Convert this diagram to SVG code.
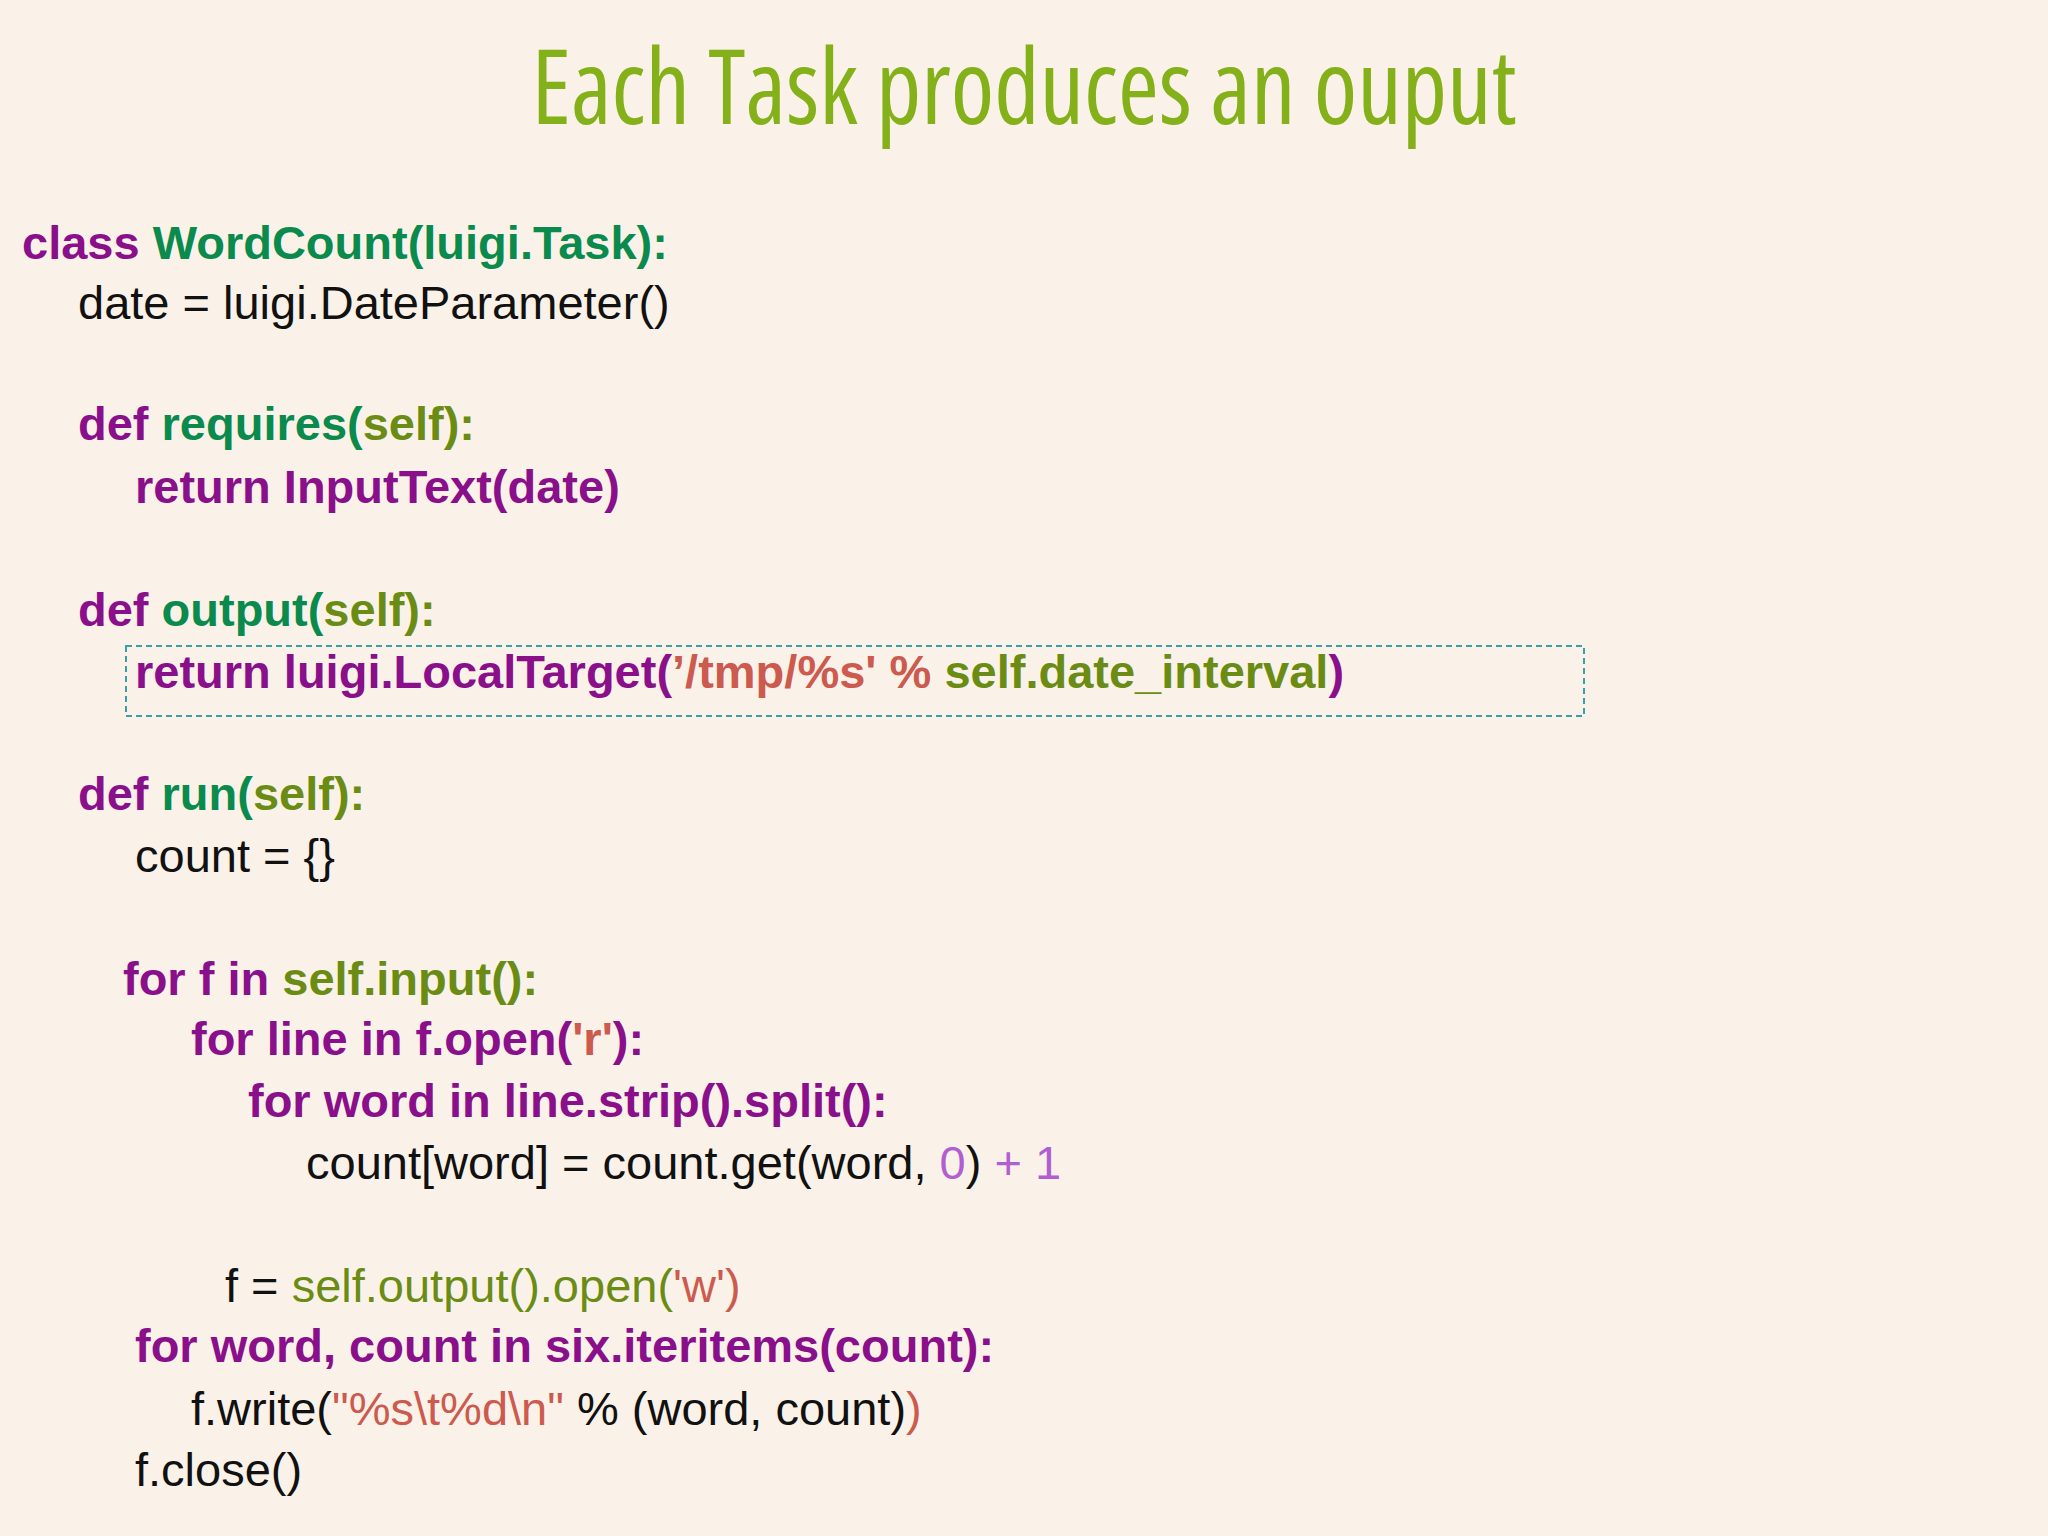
<svg xmlns="http://www.w3.org/2000/svg" width="2048" height="1536" viewBox="0 0 2048 1536">
<style>
text{font-family:"Liberation Sans",Arial,sans-serif;font-size:47px;fill:#111}
.b{font-weight:bold}
.p{fill:#8a0f8a}.g{fill:#0a8a4c}.o{fill:#6a8c14}.r{fill:#cc5a4e}.l{fill:#b05ed0}
.t{font-family:"Open Sans","Liberation Sans Narrow",sans-serif;font-size:104px;fill:#84b019;font-stretch:condensed}
</style>
<rect width="2048" height="1536" fill="#faf2e8"/>
<text class="t" x="1024" y="124" text-anchor="middle" textLength="985" lengthAdjust="spacingAndGlyphs">Each Task produces an ouput</text>
<rect x="126" y="646" width="1458" height="70" fill="none" stroke="#3aa0a8" stroke-width="2" stroke-dasharray="6,4"/>
<text class="b" x="22" y="259"><tspan class="p">class </tspan><tspan class="g">WordCount(luigi.Task):</tspan></text>
<text x="78" y="319">date = luigi.DateParameter()</text>
<text class="b" x="78" y="440"><tspan class="p">def </tspan><tspan class="g">requires(</tspan><tspan class="o">self</tspan><tspan class="o">):</tspan></text>
<text class="b p" x="135" y="503">return InputText(date)</text>
<text class="b" x="78" y="626"><tspan class="p">def </tspan><tspan class="g">output(</tspan><tspan class="o">self):</tspan></text>
<text class="b" x="135" y="688"><tspan class="p">return luigi.LocalTarget(</tspan><tspan class="r">’/tmp/%s' % </tspan><tspan class="o">self.date_interval</tspan><tspan class="p">)</tspan></text>
<text class="b" x="78" y="810"><tspan class="p">def </tspan><tspan class="g">run(</tspan><tspan class="o">self):</tspan></text>
<text x="135" y="872">count = {}</text>
<text class="b" x="123" y="995"><tspan class="p">for f in </tspan><tspan class="o">self.input():</tspan></text>
<text class="b" x="191" y="1055"><tspan class="p">for line in f.open(</tspan><tspan class="r">'r'</tspan><tspan class="p">):</tspan></text>
<text class="b p" x="248" y="1117">for word in line.strip().split():</text>
<text x="306" y="1179">count[word] = count.get(word, <tspan class="l">0</tspan>) <tspan class="l">+ 1</tspan></text>
<text x="225" y="1302">f = <tspan class="o">self.output().open(</tspan><tspan class="r">'w')</tspan></text>
<text class="b p" x="135" y="1362">for word, count in six.iteritems(count):</text>
<text x="191" y="1425">f.write(<tspan class="r">"%s\t%d\n"</tspan> % (word, count)<tspan class="r">)</tspan></text>
<text x="135" y="1486">f.close()</text>
</svg>
